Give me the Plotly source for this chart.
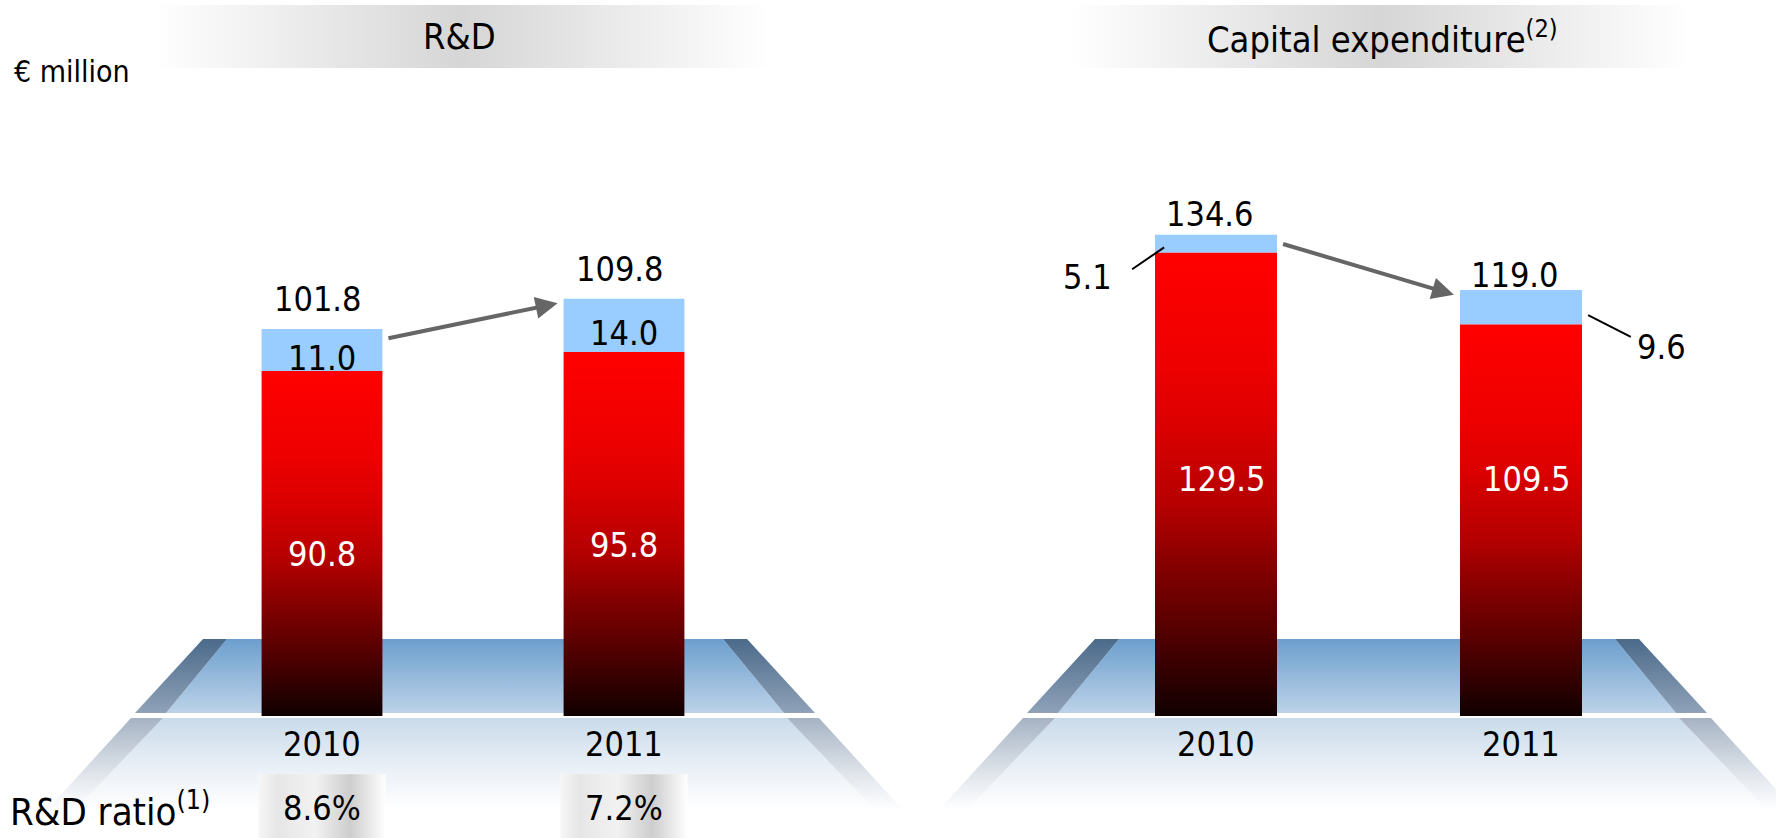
import plotly.graph_objects as go

W, H = 1776, 838

years = ["2010", "2011"]
rd_in_house = [90.8, 95.8]
rd_external = [11.0, 14.0]
rd_total = [101.8, 109.8]
rd_ratio = ["8.6%", "7.2%"]
capex_core = [129.5, 109.5]
capex_other = [5.1, 9.6]
capex_total = [134.6, 119.0]

FONT = "DejaVu Sans Condensed, Liberation Sans Narrow, sans-serif"
BLUE = "#99ccff"
BAR_W = 0.4
RED_SCALE = [
    [0, "#100000"], [0.2, "#5a0000"], [0.3, "#7c0000"], [0.45, "#b40000"],
    [0.63, "#dc0000"], [0.76, "#ee0000"], [1, "#ff0000"],
]

fig = go.Figure()


def decor(xs, ys, scale, orient="vertical", xaxis="x", yaxis="y"):
    # filled polygon with a gradient, used for the floor / banners / boxes
    fig.add_trace(go.Scatter(
        x=xs + [xs[0]], y=ys + [ys[0]], mode="lines", fill="toself",
        line=dict(width=0), fillgradient=dict(type=orient, colorscale=scale),
        hoverinfo="skip", showlegend=False, xaxis=xaxis, yaxis=yaxis,
    ))


def banner(x0, x1, y0=5, y1=68):
    decor([x0, x1, x1, x0], [y0, y0, y1, y1],
          [[0, "#ffffff"], [0.35, "#e2e2e2"], [0.5, "#d6d6d6"], [0.65, "#e2e2e2"], [1, "#ffffff"]],
          orient="horizontal")


def platform(cx):
    top, mid, low, bot = 639, 713, 718, 810
    # colour 0 = bottom edge on screen
    decor([cx - 248, cx + 248, cx + 309, cx - 309], [top, top, mid, mid],
          [[0, "#bcd2e8"], [1, "#6c9fce"]])
    for s in (-1, 1):
        decor([cx + s * 248, cx + s * 272, cx + s * 340, cx + s * 309], [top, top, mid, mid],
              [[0, "#8fa2b8"], [1, "#4b6a8a"]])
    decor([cx - 312, cx + 312, cx + 400, cx - 400], [low, low, bot, bot],
          [[0, "#ffffff"], [0.4, "#edf2f8"], [1, "#c9dbea"]])
    for s in (-1, 1):
        decor([cx + s * 312, cx + s * 344, cx + s * 428, cx + s * 400], [low, low, bot, bot],
              [[0, "#ffffff"], [0.3, "#e8ecf1"], [1, "#a6b3c4"]])


banner(153, 770)
banner(1070, 1690)
platform(475)
platform(1367)


def stacked(xa, ya, base, top_part):
    for i, v in enumerate(base):
        x0, x1 = i - BAR_W / 2, i + BAR_W / 2
        decor([x0, x1, x1, x0], [0, 0, v, v], RED_SCALE, xaxis=xa, yaxis=ya)
    fig.add_trace(go.Bar(
        x=list(range(len(base))), y=top_part, base=base, width=BAR_W,
        marker=dict(color=BLUE, line=dict(width=0)), hoverinfo="skip",
        showlegend=False, xaxis=xa, yaxis=ya,
    ))


# ratio boxes under the R&D bars
for i in range(len(years)):
    decor([i - 0.21, i + 0.21, i + 0.21, i - 0.21], [-15.3, -15.3, -32.5, -32.5],
          [[0, "#f6f6f6"], [0.15, "#e6e6e6"], [0.45, "#f2f2f2"], [0.72, "#cdcdcd"], [1, "#ffffff"]],
          orient="horizontal", xaxis="x2", yaxis="y2")

stacked("x2", "y2", rd_in_house, rd_external)
stacked("x3", "y3", capex_core, capex_other)

ann = []


def txt(text, x, y, xref, yref, size=34, color="#000000", xanchor="center", yshift=0, xshift=0):
    ann.append(dict(text=text, x=x, y=y, xref=xref, yref=yref, showarrow=False,
                    xanchor=xanchor, yanchor="middle", yshift=yshift, xshift=xshift,
                    font=dict(family=FONT, size=size, color=color)))


# headers
txt("R&amp;D", 459 / W, 1 - 37 / H, "paper", "paper", size=36)
txt("Capital expenditure<sup>(2)</sup>", 1382 / W, 1 - 37 / H, "paper", "paper", size=36)
txt("€ million", 12 / W, 1 - 71 / H, "paper", "paper", size=30, xanchor="left")
txt("R&amp;D ratio<sup>(1)</sup>", 8 / W, 1 - 809 / H, "paper", "paper", size=38, xanchor="left")

# R&D values
for i, yr in enumerate(years):
    txt(f"{rd_total[i]:.1f}", i, rd_total[i], "x2", "y2", yshift=30, xshift=-4)
    txt(f"{rd_external[i]:.1f}", i, rd_in_house[i] + rd_external[i] / 2, "x2", "y2", yshift=-8)
    txt(f"{rd_in_house[i]:.1f}", i, rd_in_house[i] * 0.47, "x2", "y2", color="#ffffff")
    txt(yr, i, 0, "x2", "y2", yshift=-28)
    txt(rd_ratio[i], i, 0, "x2", "y2", yshift=-92)

# capex values
cap_shift = [21, 15]
for i, yr in enumerate(years):
    txt(f"{capex_total[i]:.1f}", i, capex_total[i], "x3", "y3", yshift=cap_shift[i], xshift=-6)
    txt(f"{capex_core[i]:.1f}", i, 66.3, "x3", "y3", color="#ffffff", xshift=6)
    txt(yr, i, 0, "x3", "y3", yshift=-28)

# small-segment labels with leader lines
txt(f"{capex_other[0]:.1f}", -0.42, capex_core[0], "x3", "y3", yshift=-24)
txt(f"{capex_other[1]:.1f}", 1.46, capex_core[1], "x3", "y3", yshift=-23)
shapes = [
    dict(type="line", xref="x3", yref="y3", x0=-BAR_W / 2 + 0.03, x1=-BAR_W / 2 - 0.075,
         y0=capex_core[0] + capex_other[0] * 0.3, y1=capex_core[0] + capex_other[0] * 0.3 - 6.1,
         line=dict(color="#000000", width=2)),
    dict(type="line", xref="x3", yref="y3", x0=1 + BAR_W / 2 + 0.02, x1=1 + BAR_W / 2 + 0.16,
         y0=capex_core[1] + capex_other[1] * 0.27, y1=capex_core[1] + capex_other[1] * 0.27 - 6.1,
         line=dict(color="#000000", width=2)),
]

# trend arrows
for xa, ya, tot in (("x2", "y2", rd_total), ("x3", "y3", capex_total)):
    ann.append(dict(
        x=1 - BAR_W / 2 - 0.02, y=tot[1] - 1.2, ax=BAR_W / 2 + 0.015, ay=tot[0] - 2.5,
        xref=xa, yref=ya, axref=xa, ayref=ya, text="", showarrow=True,
        arrowhead=2, arrowsize=1.1, arrowwidth=4, arrowcolor="#666666",
    ))

fig.update_layout(
    width=W, height=H,
    margin=dict(l=0, r=0, t=0, b=0),
    paper_bgcolor="#ffffff", plot_bgcolor="rgba(0,0,0,0)",
    showlegend=False,
    font=dict(family=FONT, color="#000000"),
    xaxis=dict(domain=[0, 1], range=[0, W], visible=False, fixedrange=True),
    yaxis=dict(domain=[0, 1], range=[H, 0], visible=False, fixedrange=True),
    xaxis2=dict(domain=[50.2 / W, 895.8 / W], range=[-0.9, 1.9], visible=False, anchor="y2"),
    yaxis2=dict(domain=[0, 1], range=[-32.1, 188.4], visible=False, anchor="x2"),
    xaxis3=dict(domain=[972 / W, 1765 / W], range=[-0.8, 1.8], visible=False, anchor="y3"),
    yaxis3=dict(domain=[0, 1], range=[-34.1, 200.2], visible=False, anchor="x3"),
    annotations=ann,
    shapes=shapes,
)

fig.write_html("out.html", config={"displayModeBar": False},
               post_script="document.body.style.margin='0';")
